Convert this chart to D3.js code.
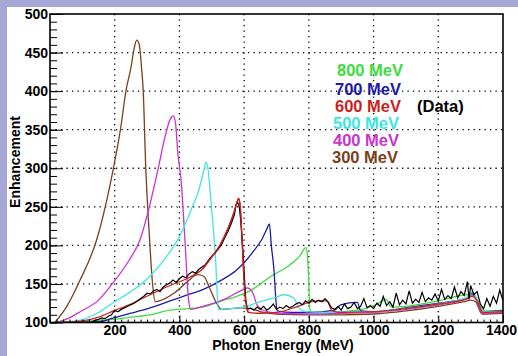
<!DOCTYPE html>
<html>
<head>
<meta charset="utf-8">
<script src="https://cdn.jsdelivr.net/npm/d3@7"></script>
<style>
  body { margin: 0; background: #a6a8d8; }
  svg { display: block; }
  text { font-family: "Liberation Sans", Arial, sans-serif; font-weight: bold; }
</style>
</head>
<body>
<script>
// enhancement curves, [photon energy MeV, enhancement]
const e300 = [[15,100],[52,121],[93,155],[144,207],[195,298],[218,351],[235,401],[250,430],[260,455],[268,466],[276,460],[283,430],[288,401],[296,300],[306,220],[317,150],[325,127],[383,138],[425,153],[456,162],[475,160],[495,143],[515,125],[530,117],[590,119],[620,118],[660,113],[700,111],[800,110],[900,110],[1000,111],[1100,115],[1200,121],[1280,127],[1300,129],[1315,127],[1335,111],[1400,112]];
const e400 = [[20,100],[60,106],[93,114],[150,129],[196,152],[245,181],[278,207],[307,250],[334,299],[355,340],[372,364],[381,368],[388,358],[395,320],[405,285],[418,200],[428,130],[435,117],[480,122],[538,130],[589,141],[610,145],[625,140],[641,122],[671,114],[700,112],[800,111],[900,112],[1000,113],[1100,117],[1200,123],[1290,131],[1305,137],[1318,130],[1335,112],[1400,113]];
const e500 = [[20,100],[93,103],[150,113],[196,126],[250,140],[309,160],[371,192],[402,213],[440,250],[460,272],[476,298],[483,308],[488,300],[495,270],[505,220],[512,180],[520,117],[560,118],[600,120],[650,127],[700,133],[722,136],[753,132],[769,119],[790,114],[850,113],[950,114],[1000,114],[1100,118],[1200,124],[1290,133],[1305,140],[1318,132],[1338,114],[1400,114]];
const e600 = [[20,100],[100,102],[150,107],[196,115],[250,124],[309,136],[371,148],[433,159],[473,170],[500,185],[525,200],[550,222],[568,242],[578,256],[583,261],[588,250],[593,212],[603,134],[613,113],[650,112],[700,113],[760,120],[800,126],[826,128],[856,128],[872,115],[900,113],[1000,114],[1100,118],[1200,124],[1290,131],[1305,134],[1320,128],[1338,113],[1400,114]];
const e700 = [[20,100],[155,101],[196,106],[250,112],[309,119],[371,128],[433,137],[474,143],[530,155],[577,168],[605,180],[628,192],[655,208],[672,223],[678,228],[684,200],[692,169],[698,130],[702,115],[750,113],[800,113],[880,116],[898,123],[950,126],[960,115],[1000,114],[1100,119],[1200,125],[1290,132],[1302,138],[1318,130],[1338,114],[1400,115]];
const e800 = [[40,100],[120,102],[196,104],[250,107],[309,110],[371,116],[430,118],[482,121],[530,128],[577,134],[618,141],[680,159],[742,175],[770,185],[791,197],[796,185],[800,150],[803,117],[810,113],[850,113],[950,116],[1006,123],[1040,130],[1050,122],[1057,120],[1100,121],[1200,128],[1292,136],[1313,134],[1334,119],[1345,115],[1400,116]];
// measured data at 600 MeV
const data600 = [[130,101],[140,103],[150,104],[160,106],[170,105],[180,108],[190,110],[200,116],[210,114],[220,117],[230,119],[240,121],[250,123],[260,125],[270,128],[280,131],[290,134],[300,138],[310,137],[320,141],[330,143],[340,140],[350,146],[360,149],[370,151],[380,155],[390,152],[400,157],[410,160],[420,158],[430,163],[440,166],[450,164],[460,169],[470,172],[480,175],[490,181],[500,186],[510,190],[520,195],[530,201],[540,210],[550,218],[560,228],[570,240],[575,253],[580,256],[585,250],[590,230],[595,200],[600,165],[605,130],[610,117],[620,119],[630,116],[640,120],[650,117],[660,121],[670,116],[680,119],[690,124],[700,117],[710,120],[720,118],[730,122],[740,119],[750,121],[760,124],[770,126],[780,123],[790,128],[800,125],[810,130],[820,126],[830,129],[840,127],[850,131],[860,126],[870,119],[880,117],[890,121],[900,116],[910,124],[920,118],[930,120],[940,126],[950,118],[960,121],[970,131],[980,119],[990,122],[1000,118],[1010,125],[1020,121],[1030,134],[1040,122],[1050,127],[1060,120],[1070,138],[1080,123],[1090,129],[1100,124],[1110,141],[1120,125],[1130,130],[1140,126],[1150,139],[1160,127],[1170,132],[1180,129],[1190,137],[1200,128],[1210,143],[1220,130],[1230,135],[1240,131],[1250,146],[1260,132],[1270,140],[1280,135],[1290,153],[1295,130],[1300,148],[1310,136],[1320,140],[1330,124],[1340,118],[1350,131],[1360,121],[1370,134],[1380,125],[1390,142],[1400,128]];

const yTicks = [100, 150, 200, 250, 300, 350, 400, 450, 500];
const xTicks = [200, 400, 600, 800, 1000, 1200, 1400];
const legendLabels = ['800 MeV', '700 MeV', '600 MeV', '500 MeV', '400 MeV', '300 MeV'];
const legendColors = ['#3ddc3d', '#1c1ca8', '#cc1f1f', '#3ce6e6', '#cc33cc', '#7b3f1c'];
const seriesList = [e800, e700, e300, e400, e500, e600];
const seriesColors = ['#3ddc3d', '#1c1ca8', '#7b3f1c', '#cc33cc', '#3ce6e6', '#cc1f1f'];

const w = 518, h = 356;
const svg = d3.select('body').append('svg').attr('width', w).attr('height', h);
svg.append('rect').attr('x', 7).attr('y', 7).attr('width', w - 7).attr('height', h - 7).attr('fill', '#fff');

const x = d3.scaleLinear().domain([0, 1400]).range([50, 503]);
const y = d3.scaleLinear().domain([100, 500]).range([322.5, 14]);

svg.append('clipPath').attr('id', 'clip')
    .append('rect').attr('x', 50).attr('y', 14).attr('width', 453).attr('height', 308.5);

// dotted grid
const grid = svg.append('g').attr('stroke', '#000').attr('stroke-width', 1.3).attr('stroke-dasharray', '1.3,4.2');
grid.selectAll('.gx').data(xTicks.slice(0, -1)).enter().append('line')
    .attr('x1', d => x(d)).attr('x2', d => x(d)).attr('y1', y(500)).attr('y2', y(100));
grid.selectAll('.gy').data(yTicks.slice(1, -1)).enter().append('line')
    .attr('x1', x(0)).attr('x2', x(1400)).attr('y1', d => y(d)).attr('y2', d => y(d));

const smooth = d3.line().x(d => x(d[0])).y(d => y(d[1])).curve(d3.curveMonotoneX);
const line = d3.line().x(d => x(d[0])).y(d => y(d[1]));
const curves = svg.append('g').attr('clip-path', 'url(#clip)').attr('fill', 'none');
curves.selectAll('path.model')
    .data(seriesList)
    .enter()
    .append('path')
    .attr('d', smooth)
    .attr('stroke', (d, i) => seriesColors[i])
    .attr('stroke-width', 1.3);
curves.append('path').attr('d', line(data600)).attr('stroke', '#000').attr('stroke-width', 1.2);
curves.append('path').attr('d', smooth(e600.filter(d => d[0] > 440 && d[0] < 620))).attr('stroke', '#cc1f1f').attr('stroke-width', 1.3);

// axes, ticks pointing inward
const yMinor = d3.range(100, 501, 10);
svg.append('g').attr('transform', 'translate(50,0)')
    .call(d3.axisLeft(y).tickValues(yMinor).tickSize(-7).tickSizeOuter(0).tickFormat(''))
    .call(g => g.select('.domain').remove());
svg.append('g').attr('transform', 'translate(50,0)')
    .call(d3.axisLeft(y).tickValues(yTicks).tickSize(-13).tickSizeOuter(0).tickPadding(2))
    .call(g => g.select('.domain').remove())
    .selectAll('text').attr('font-size', 14).attr('font-family', '"Liberation Sans", Arial, sans-serif');
const xMinor = d3.range(0, 1401, 20);
svg.append('g').attr('transform', 'translate(0,322.5)')
    .call(d3.axisBottom(x).tickValues(xMinor).tickSize(-3).tickSizeOuter(0).tickFormat(''))
    .call(g => g.select('.domain').remove());
const xAxis = svg.append('g').attr('transform', 'translate(0,322.5)')
    .call(d3.axisBottom(x).tickValues(xTicks).tickSize(-7).tickSizeOuter(0).tickPadding(3).tickFormat(d3.format('d')))
    .call(g => g.select('.domain').remove());
xAxis.selectAll('text').attr('font-size', 14).attr('font-family', '"Liberation Sans", Arial, sans-serif');
xAxis.selectAll('text').filter(d => d === 1400).attr('dx', -2);

svg.append('rect').attr('x', 50).attr('y', 14).attr('width', 453).attr('height', 308.5)
    .attr('fill', 'none').attr('stroke', '#000').attr('stroke-width', 1.6);

svg.append('text').attr('x', 283).attr('y', 350).attr('text-anchor', 'middle').attr('font-size', 14)
    .text('Photon Energy (MeV)');
svg.append('text').attr('transform', 'translate(20,162) rotate(-90)').attr('text-anchor', 'middle').attr('font-size', 14)
    .text('Enhancement');

// legend
const legendX = [337, 335, 335, 333, 333, 332];
const legendY = [76, 95, 112, 128.5, 145.5, 162.5];
svg.append('g').selectAll('text')
    .data(legendLabels)
    .enter()
    .append('text')
    .attr('x', (d, i) => legendX[i])
    .attr('y', (d, i) => legendY[i])
    .attr('font-size', 16.5)
    .attr('fill', (d, i) => legendColors[i])
    .text(d => d);
svg.append('text').attr('x', 417).attr('y', 112).attr('font-size', 16.5).attr('fill', '#000').text('(Data)');
</script>
</body>
</html>
